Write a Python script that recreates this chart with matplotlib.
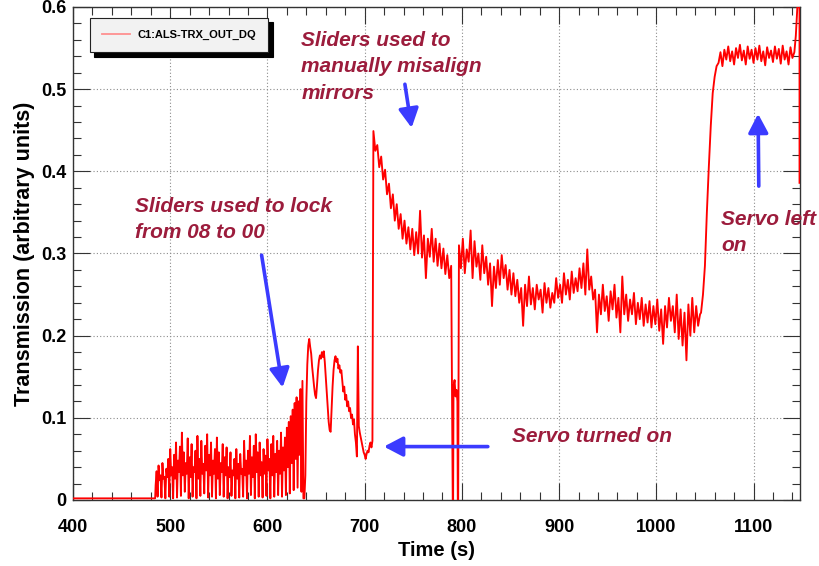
import numpy as np
import matplotlib.pyplot as plt
from matplotlib.ticker import MultipleLocator, FuncFormatter

plt.rcParams['font.family'] = ['Liberation Sans', 'DejaVu Sans']

NOTE = '#9c1c3c'
ARROW = '#3b3bff'
TRACE = '#ff0000'

CHANNEL = 'C1:ALS-TRX_OUT_DQ'

# cavity dark before the sliders are touched
quiet_t = [400.0, 484.5]
quiet_v = [0.002, 0.002]

# 1 s samples while the sliders hunt for lock (08 -> 00)
grass_t = np.arange(485, 637)
grass_v = [
    0.018, 0.035, 0.004, 0.042, 0.024, 0.030, 0.003, 0.045, 0.026, 0.028,
    0.002, 0.038, 0.028, 0.050, 0.004, 0.062, 0.030, 0.040, 0.002, 0.055,
    0.026, 0.070, 0.003, 0.048, 0.034, 0.065, 0.005, 0.082, 0.030, 0.058,
    0.010, 0.045, 0.032, 0.075, 0.002, 0.052, 0.028, 0.068, 0.004, 0.040,
    0.034, 0.060, 0.002, 0.078, 0.026, 0.050, 0.005, 0.072, 0.032, 0.044,
    0.008, 0.066, 0.036, 0.080, 0.003, 0.055, 0.030, 0.070, 0.004, 0.048,
    0.032, 0.062, 0.002, 0.076, 0.026, 0.058, 0.006, 0.045, 0.034, 0.068,
    0.004, 0.052, 0.030, 0.064, 0.002, 0.040, 0.028, 0.058, 0.005, 0.036,
    0.030, 0.050, 0.002, 0.062, 0.026, 0.044, 0.003, 0.056, 0.032, 0.038,
    0.004, 0.072, 0.030, 0.048, 0.002, 0.060, 0.032, 0.078, 0.006, 0.052,
    0.028, 0.066, 0.002, 0.080, 0.034, 0.058, 0.004, 0.070, 0.030, 0.046,
    0.003, 0.062, 0.032, 0.054, 0.005, 0.074, 0.036, 0.050, 0.002, 0.068,
    0.030, 0.078, 0.004, 0.056, 0.034, 0.072, 0.006, 0.060, 0.032, 0.082,
    0.004, 0.064, 0.036, 0.076, 0.006, 0.088, 0.040, 0.095, 0.008, 0.102,
    0.045, 0.110, 0.012, 0.118, 0.050, 0.125, 0.015, 0.120, 0.055, 0.135,
    0.010, 0.145,
]

# brief lock with slow ringing before the servo comes on
osc_t = np.arange(637, 709)
osc_v = [
    0.002, 0.002, 0.030, 0.120, 0.165, 0.188, 0.196, 0.186, 0.178, 0.162,
    0.150, 0.138, 0.128, 0.124, 0.140, 0.158, 0.170, 0.176, 0.172, 0.180,
    0.174, 0.181, 0.168, 0.150, 0.132, 0.112, 0.095, 0.085, 0.083, 0.110,
    0.138, 0.158, 0.170, 0.175, 0.168, 0.172, 0.160, 0.164, 0.155, 0.158,
    0.145, 0.132, 0.138, 0.122, 0.128, 0.114, 0.120, 0.108, 0.112, 0.100,
    0.104, 0.092, 0.098, 0.080, 0.070, 0.053, 0.187, 0.090, 0.082, 0.076,
    0.070, 0.064, 0.058, 0.055, 0.050, 0.056, 0.060, 0.058, 0.066, 0.070,
    0.064, 0.072,
]

# servo on, mirrors walked off by hand
misalign_t = np.arange(709, 790, 2)
misalign_v = [
    0.449, 0.425, 0.432, 0.405, 0.418, 0.390, 0.402, 0.372, 0.385, 0.355,
    0.372, 0.340, 0.360, 0.330, 0.348, 0.318, 0.340, 0.312, 0.332, 0.305,
    0.330, 0.298, 0.326, 0.300, 0.352, 0.295, 0.322, 0.270, 0.318, 0.296,
    0.330, 0.290, 0.318, 0.285, 0.312, 0.282, 0.306, 0.275, 0.298, 0.270,
    0.285,
]

# lock lost for a few seconds
dropout_t = [790.6, 791.0, 791.4, 792.5, 793.5, 794.5, 795.4, 795.8, 796.2]
dropout_v = [0.0, 0.0, 0.138, 0.146, 0.126, 0.134, 0.120, 0.0, 0.0]

drift_t = np.arange(797, 1046, 2)
drift_v = [
    0.310, 0.282, 0.318, 0.276, 0.305, 0.290, 0.328, 0.270, 0.315, 0.284,
    0.300, 0.268, 0.310, 0.276, 0.296, 0.262, 0.288, 0.236, 0.284, 0.258,
    0.292, 0.262, 0.298, 0.270, 0.286, 0.256, 0.280, 0.250, 0.276, 0.248,
    0.268, 0.240, 0.258, 0.212, 0.262, 0.236, 0.272, 0.238, 0.258, 0.232,
    0.262, 0.244, 0.256, 0.228, 0.264, 0.240, 0.258, 0.234, 0.252, 0.240,
    0.270, 0.246, 0.262, 0.240, 0.276, 0.250, 0.268, 0.244, 0.278, 0.252,
    0.270, 0.254, 0.282, 0.258, 0.288, 0.250, 0.305, 0.256, 0.272, 0.244,
    0.256, 0.204, 0.250, 0.226, 0.262, 0.230, 0.248, 0.218, 0.254, 0.232,
    0.262, 0.222, 0.246, 0.204, 0.272, 0.226, 0.250, 0.218, 0.244, 0.226,
    0.252, 0.214, 0.240, 0.220, 0.246, 0.212, 0.238, 0.216, 0.242, 0.210,
    0.236, 0.214, 0.244, 0.206, 0.232, 0.190, 0.236, 0.210, 0.246, 0.218,
    0.236, 0.204, 0.250, 0.196, 0.232, 0.188, 0.228, 0.170, 0.238, 0.200,
    0.246, 0.204, 0.236, 0.212, 0.226,
]

# alignment restored, servo left running
rise_t = np.arange(1046, 1063, 2)
rise_v = [0.228, 0.250, 0.285, 0.350, 0.405, 0.455, 0.495, 0.515, 0.528]

plateau_t = np.arange(1064, 1143, 2)
plateau_v = [
    0.532, 0.545, 0.528, 0.548, 0.536, 0.552, 0.534, 0.546, 0.530, 0.550,
    0.538, 0.554, 0.535, 0.547, 0.530, 0.552, 0.537, 0.548, 0.532, 0.550,
    0.536, 0.553, 0.534, 0.546, 0.529, 0.551, 0.538, 0.547, 0.533, 0.552,
    0.537, 0.549, 0.531, 0.553, 0.536, 0.546, 0.530, 0.551, 0.538, 0.545,
]

end_t = [1143.5, 1145.0, 1146.5, 1147.3, 1147.3]
end_v = [0.565, 0.598, 0.612, 0.650, 0.386]

time = np.concatenate([quiet_t, grass_t, osc_t, misalign_t, dropout_t,
                       drift_t, rise_t, plateau_t, end_t])
trx = np.concatenate([quiet_v, grass_v, osc_v, misalign_v, dropout_v,
                      drift_v, rise_v, plateau_v, end_v])

fig = plt.figure(figsize=(8.19, 5.66), dpi=100)
ax = fig.add_axes([73 / 819, 1 - 500 / 566, 727 / 819, 493 / 566])

line, = ax.plot(time, trx, color=TRACE, lw=1.35, label=CHANNEL, zorder=3)

ax.set_xlim(400, 1147.8)
ax.set_ylim(0, 0.6)
ax.xaxis.set_major_locator(MultipleLocator(100))
ax.xaxis.set_minor_locator(MultipleLocator(20))
ax.yaxis.set_major_locator(MultipleLocator(0.1))
ax.yaxis.set_minor_locator(MultipleLocator(0.02))
ax.yaxis.set_major_formatter(FuncFormatter(lambda v, _: '0' if abs(v) < 1e-9 else f'{v:.1f}'))

ax.grid(which='major', color='#8c8c8c', linestyle=(0, (1, 2)), linewidth=0.8, zorder=0)
ax.tick_params(which='both', direction='in', top=True, right=True, color='#333333', width=0.8)
ax.tick_params(which='major', length=12)
ax.tick_params(which='minor', length=6)
ax.tick_params(axis='x', which='major', pad=14, labelsize=13)
ax.tick_params(axis='y', which='major', pad=5, labelsize=13)
for lab in ax.get_xticklabels() + ax.get_yticklabels():
    lab.set_fontweight('bold')
for sp in ax.spines.values():
    sp.set_color('#333333')
    sp.set_linewidth(1.0)

ax.set_xlabel('Time (s)', fontsize=14.5, fontweight='bold', labelpad=3)
ax.set_ylabel('Transmission (arbitrary units)', fontsize=15.5, fontweight='bold', labelpad=4)

leg = ax.legend(loc='upper left', bbox_to_anchor=(0.023, 0.978), borderaxespad=0,
                fancybox=False, frameon=True, facecolor='#f2f2f2', edgecolor='#222222',
                framealpha=1, fontsize=8, handlelength=2.5, handletextpad=0.7,
                borderpad=1.1,
                shadow={'ox': 3, 'oy': -3, 'facecolor': 'black', 'edgecolor': 'black', 'alpha': 1})
leg.get_frame().set_linewidth(0.8)
leg.get_lines()[0].set_color('#ff9090')
leg.get_lines()[0].set_linewidth(1.3)
for txt in leg.get_texts():
    txt.set_fontweight('bold')

note_kw = dict(color=NOTE, fontsize=15, fontweight='bold', fontstyle='italic',
               ha='left', va='center', linespacing=1.47, clip_on=False, zorder=5)
ax.text(635, 0.527, 'Sliders used to\nmanually misalign\nmirrors', **note_kw)
ax.text(463.8, 0.3415, 'Sliders used to lock\nfrom 08 to 00', **note_kw)
ax.text(852, 0.077, 'Servo turned on', **note_kw)
ax.text(1067, 0.326, 'Servo left\non', **note_kw)

arrow_kw = dict(arrowstyle='-|>,head_length=0.95,head_width=0.5', color=ARROW,
                lw=2.6, mutation_scale=12, shrinkA=0, shrinkB=0)
arrows = [((741.4, 0.506), (748.3, 0.453)),
          ((594.0, 0.298), (615.6, 0.137)),
          ((826.7, 0.065), (719.8, 0.065)),
          ((1105.4, 0.382), (1104.7, 0.470))]
for tail, tip in arrows:
    ax.annotate('', xy=tip, xytext=tail, arrowprops=arrow_kw, zorder=6)

fig.savefig('out.png', dpi=100, facecolor='white')
